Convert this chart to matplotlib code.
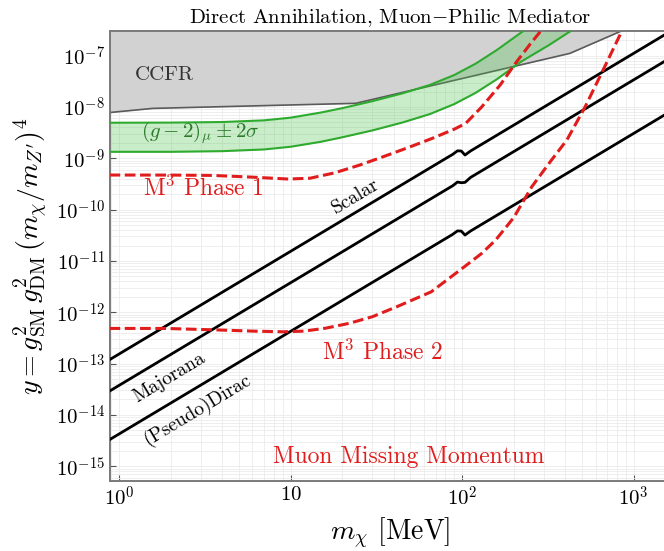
import matplotlib
matplotlib.use("Agg")
import matplotlib.pyplot as plt

plt.rcParams['mathtext.fontset'] = 'cm'
plt.rcParams['font.family'] = 'serif'
plt.rcParams['font.serif'] = ['cmr10']
plt.rcParams['axes.formatter.use_mathtext'] = True

# relic target lines (m_chi [MeV], y), small kink near the muon mass
kink_x = [0.88, 80, 88, 94, 99, 104, 112, 1700]
scalar_y = [1.19e-13, 9.86e-10, 1.19e-9, 1.40e-9, 1.39e-9, 1.16e-9, 1.39e-9, 3.21e-7]
majorana_y = [2.91e-14, 2.41e-10, 2.91e-10, 3.45e-10, 3.35e-10, 3.40e-10, 4.24e-10, 9.77e-8]
dirac_y = [3.29e-15, 2.72e-11, 3.29e-11, 3.86e-11, 3.82e-11, 3.20e-11, 3.83e-11, 8.83e-9]

# CCFR exclusion lower edge
ccfr_x = [0.88, 1.57, 24, 425, 900, 1700]
ccfr_y = [7.8e-9, 9.4e-9, 1.18e-8, 1.11e-7, 3.3e-7, 1e-6]

# (g-2)_mu band
gm2_x = [0.88, 2, 4, 7, 10, 15, 20, 30, 45, 65, 90, 120, 160, 220, 320, 500]
gm2_hi = [4.94e-9, 4.97e-9, 5.1e-9, 5.5e-9, 6.2e-9, 7.8e-9, 9.5e-9, 1.3e-8,
          1.85e-8, 2.7e-8, 4.2e-8, 7.0e-8, 1.3e-7, 2.8e-7, 6.5e-7, 1.6e-6]
gm2_lo = [1.34e-9, 1.34e-9, 1.38e-9, 1.49e-9, 1.68e-9, 2.1e-9, 2.57e-9, 3.5e-9,
          5.0e-9, 7.3e-9, 1.14e-8, 1.89e-8, 3.5e-8, 7.6e-8, 1.6e-7, 4.2e-7]

# M3 projections
ph1_x = [0.88, 2, 3.5, 6, 9.7, 13, 18, 25, 34, 48, 67, 90, 105, 130, 167, 204, 250, 300]
ph1_y = [4.73e-10, 4.72e-10, 4.65e-10, 4.3e-10, 3.95e-10, 4.1e-10, 5.2e-10, 7.3e-10,
         1.05e-9, 1.6e-9, 2.45e-9, 3.7e-9, 4.8e-9, 1.0e-8, 2.7e-8, 7.0e-8, 1.7e-7, 3.6e-7]
ph2_x = [0.88, 1.85, 3.6, 6, 9.1, 12, 16, 22, 30, 42, 66, 97, 130, 157, 200, 255,
         330, 408, 521, 664, 853, 1000]
ph2_y = [4.85e-13, 4.85e-13, 4.55e-13, 4.3e-13, 4.17e-13, 4.3e-13, 4.9e-13, 6.1e-13,
         8.2e-13, 1.3e-12, 2.5e-12, 6.6e-12, 1.4e-11, 2.56e-11, 7e-11, 2.8e-10,
         9e-10, 2.27e-9, 1.0e-8, 5.26e-8, 3e-7, 8e-7]

xticks = [1, 10, 100, 1000]
xticklabels = ['$10^0$', '$10$', '$10^2$', '$10^3$']
yticks = [1e-15, 1e-14, 1e-13, 1e-12, 1e-11, 1e-10, 1e-9, 1e-8, 1e-7]
yticklabels = ['$10^{-%d}$' % k for k in range(15, 6, -1)]

red = '#e01c1c'
green = '#2eaa2e'

fig = plt.figure(figsize=(6.64, 5.51), dpi=100)
ax = fig.add_axes([110/664, 1 - 481/551, 560/664, 450/551])
ax.set_xscale('log')
ax.set_yscale('log')
ax.set_xlim(0.886, 1630)
ax.set_ylim(5.16e-16, 3.03e-7)

ax.fill_between(ccfr_x, ccfr_y, 1e-5, color='#d2d2d2', lw=0, zorder=1)
ax.plot(ccfr_x, ccfr_y, color='#5a5a5a', lw=1.2, zorder=2)

ax.fill_between(gm2_x, gm2_lo, gm2_hi, color='#4cc24c', alpha=0.3, lw=0, zorder=2)
ax.plot(gm2_x, gm2_hi, color=green, lw=1.5, zorder=3)
ax.plot(gm2_x, gm2_lo, color=green, lw=1.5, zorder=3)

for ys in [scalar_y, majorana_y, dirac_y]:
    ax.plot(kink_x, ys, color='black', lw=2, zorder=4)

ax.plot(ph1_x, ph1_y, color=red, lw=2.2, ls=(0, (3.5, 1.5)), zorder=5)
ax.plot(ph2_x, ph2_y, color=red, lw=2.2, ls=(0, (3.5, 1.5)), zorder=5)

ax.text(1.85, 4.2e-8, 'CCFR', color='#333333', fontsize=15, ha='center', va='center')
ax.text(2.97, 3.1e-9, r'$(g-2)_\mu \pm 2\sigma$', color='#2a7a2a', fontsize=15, ha='center', va='center')
ax.text(3.09, 2.6e-10, r'M$^3$ Phase 1', color=red, fontsize=17, ha='center', va='center')
ax.text(34.6, 1.67e-13, r'M$^3$ Phase 2', color=red, fontsize=17, ha='center', va='center')
ax.text(49.1, 1.49e-15, 'Muon Missing Momentum', color=red, fontsize=17, ha='center', va='center')
ax.text(23.8, 1.84e-10, 'Scalar', fontsize=14, rotation=31, ha='center', va='center')
ax.text(1.96, 5.46e-14, 'Majorana', fontsize=14, rotation=31, ha='center', va='center')
ax.text(2.85, 1.24e-14, '(Pseudo)Dirac', fontsize=14, rotation=31, ha='center', va='center')

ax.set_xticks(xticks)
ax.set_xticklabels(xticklabels)
ax.set_yticks(yticks)
ax.set_yticklabels(yticklabels)
ax.tick_params(which='major', direction='in', length=4, labelsize=15, color='#555555')
ax.tick_params(which='minor', length=0)
ax.grid(True, which='both', color='#ebebeb', lw=0.6, zorder=0)
ax.set_axisbelow(True)
for s in ax.spines.values():
    s.set_color('#7a7a7a')
    s.set_linewidth(1.4)

ax.set_title(r'Direct Annihilation, Muon$-$Philic Mediator', fontsize=15)
ax.set_xlabel(r'$m_\chi$ [MeV]', fontsize=20)
ax.set_ylabel(r'$y = g_{\rm SM}^2\, g_{\rm DM}^2\, (m_\chi/m_{Z^\prime})^4$', fontsize=20)

fig.savefig('out.png', dpi=100)
